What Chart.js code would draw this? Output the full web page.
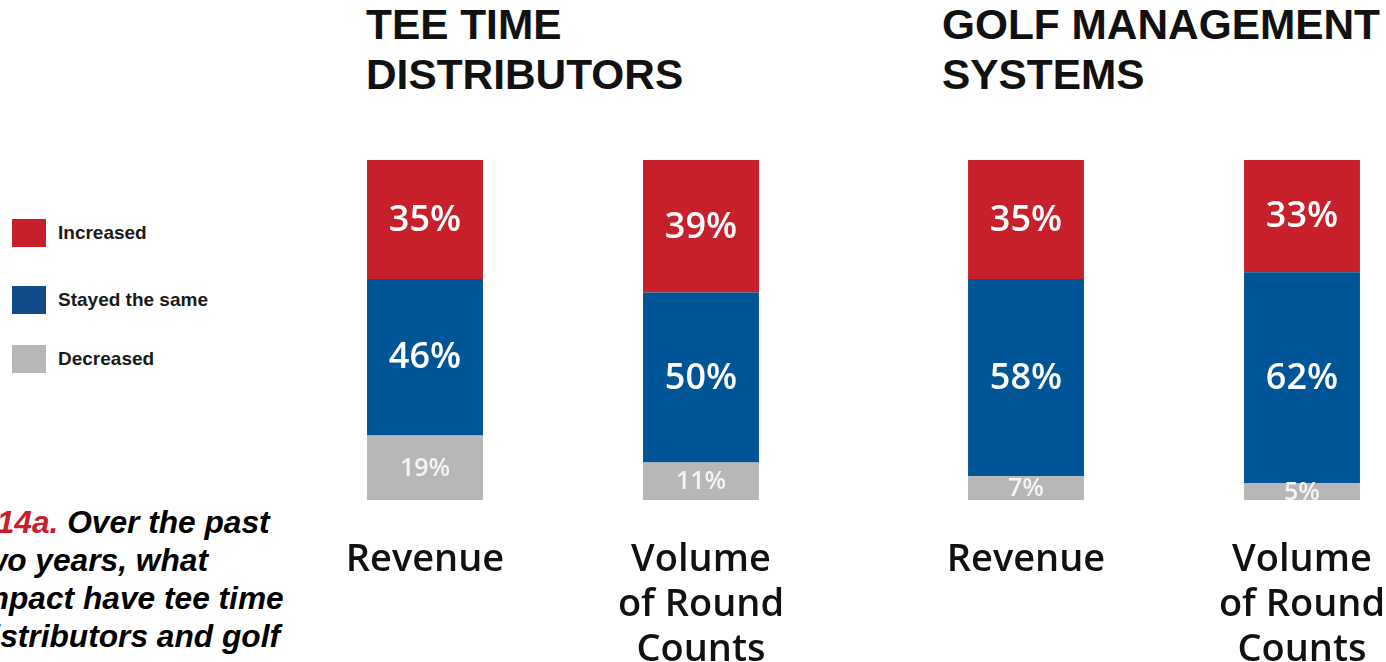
<!DOCTYPE html>
<html>
<head>
<meta charset="utf-8">
<script src="https://cdn.jsdelivr.net/npm/chart.js@4"></script>
<style>
  html, body { margin: 0; padding: 0; background: #fff; }
  body { position: relative; width: 1386px; height: 662px; overflow: hidden; }
  .panel-title {
    position: absolute; top: 0;
    font-family: 'Liberation Sans', Arial, sans-serif; font-weight: bold;
    font-size: 42.4px; line-height: 50px; color: #111;
    white-space: nowrap;
  }
  .legend { position: absolute; left: 12px; top: 219px; }
  .legend-item {
    position: absolute; left: 0; height: 28px; white-space: nowrap;
    font-family: 'Liberation Sans', Arial, sans-serif; font-weight: bold;
    font-size: 19px; line-height: 28px; color: #1a1a1a;
  }
  .legend-item span.sw { display: inline-block; width: 34px; height: 28px; vertical-align: top; margin-right: 12px; }
  .question {
    position: absolute; left: -28px; top: 503px;
    font-family: 'Liberation Sans', Arial, sans-serif;
    font-weight: bold; font-style: italic; font-size: 31.7px; line-height: 38px; color: #000;
    white-space: nowrap;
  }
  .question .qn { color: #c8202a; }
  .chart-box { position: absolute; top: 160px; width: 552px; height: 502px; }
</style>
</head>
<body>

<div class="panel-title" id="title-ttd" style="left:366px"></div>
<div class="panel-title" id="title-gms" style="left:942px"></div>

<div class="legend" id="legend"></div>

<div class="question"><span class="qn">Q14a.</span> Over the past<br>two years, what<br>impact have tee time<br>distributors and golf</div>

<div class="chart-box" style="left:287px"><canvas id="chart-ttd"></canvas></div>
<div class="chart-box" style="left:888px"><canvas id="chart-gms"></canvas></div>

<script>
// Categorias (eixo X) e títulos dos painéis
const categorias = [['Revenue'], ['Volume', 'of Round', 'Counts']];
const tituloTTD = ['TEE TIME', 'DISTRIBUTORS'];
const tituloGMS = ['GOLF MANAGEMENT', 'SYSTEMS'];

// Séries (%) - Tee Time Distributors
const aumentouTTD = [35, 39];
const igualTTD = [46, 50];
const diminuiuTTD = [19, 11];

// Séries (%) - Golf Management Systems
const aumentouGMS = [35, 33];
const igualGMS = [58, 62];
const diminuiuGMS = [7, 5];

// Legenda
const nomesSeries = ['Increased', 'Stayed the same', 'Decreased'];

const COR_VERMELHO = '#c8202a';
const COR_AZUL = '#005596';
const COR_CINZA = '#b7b7b7';

// Títulos
document.getElementById('title-ttd').innerHTML = tituloTTD.join('<br>');
document.getElementById('title-gms').innerHTML = tituloGMS.join('<br>');

// Legenda manual à esquerda
const legendaTops = [0, 67, 126];
const legendaCores = [COR_VERMELHO, '#124a8a', COR_CINZA];
document.getElementById('legend').innerHTML = nomesSeries.map((n, i) => `
    <div class="legend-item" style="top:${legendaTops[i]}px">
        <span class="sw" style="background:${legendaCores[i]}"></span>${n}
    </div>
`).join('');

// Rótulos de valor dentro das barras
const rotulosBarras = {
    id: 'rotulosBarras',
    afterDatasetsDraw(chart) {
        const ctx = chart.ctx;
        chart.data.datasets.forEach((ds, i) => {
            const meta = chart.getDatasetMeta(i);
            meta.data.forEach((bar, j) => {
                ctx.save();
                ctx.fillStyle = ds.corRotulo;
                ctx.font = `600 ${ds.tamRotulo}px 'Open Sans', sans-serif`;
                ctx.textAlign = 'center';
                ctx.textBaseline = 'middle';
                ctx.fillText(ds.data[j] + '%', bar.x, (bar.y + bar.base) / 2 + 1);
                ctx.restore();
            });
        });
    }
};

function criarGrafico(id, aumentou, igual, diminuiu) {
    const ctx = document.getElementById(id);
    return new Chart(ctx, {
        type: 'bar',
        data: {
            labels: categorias,
            datasets: [
                { label: nomesSeries[2], data: diminuiu, backgroundColor: COR_CINZA, corRotulo: '#f4f4f4', tamRotulo: 25 },
                { label: nomesSeries[1], data: igual, backgroundColor: COR_AZUL, corRotulo: '#ffffff', tamRotulo: 36 },
                { label: nomesSeries[0], data: aumentou, backgroundColor: COR_VERMELHO, corRotulo: '#ffffff', tamRotulo: 36 }
            ]
        },
        options: {
            responsive: true,
            maintainAspectRatio: false,
            animation: false,
            layout: { padding: 0 },
            plugins: {
                legend: { display: false },
                tooltip: { enabled: false }
            },
            datasets: {
                bar: { barPercentage: 0.42, categoryPercentage: 1 }
            },
            scales: {
                x: {
                    stacked: true,
                    grid: { display: false, drawTicks: false },
                    border: { display: false },
                    ticks: {
                        color: '#111',
                        padding: 38,
                        font: { family: "'Open Sans', sans-serif", size: 38, weight: '600', lineHeight: 45 / 38 }
                    },
                    afterFit(scale) { scale.height = 162; }
                },
                y: {
                    stacked: true,
                    display: false,
                    min: 0,
                    max: 100
                }
            }
        },
        plugins: [rotulosBarras]
    });
}

criarGrafico('chart-ttd', aumentouTTD, igualTTD, diminuiuTTD);
criarGrafico('chart-gms', aumentouGMS, igualGMS, diminuiuGMS);
</script>
</body>
</html>
